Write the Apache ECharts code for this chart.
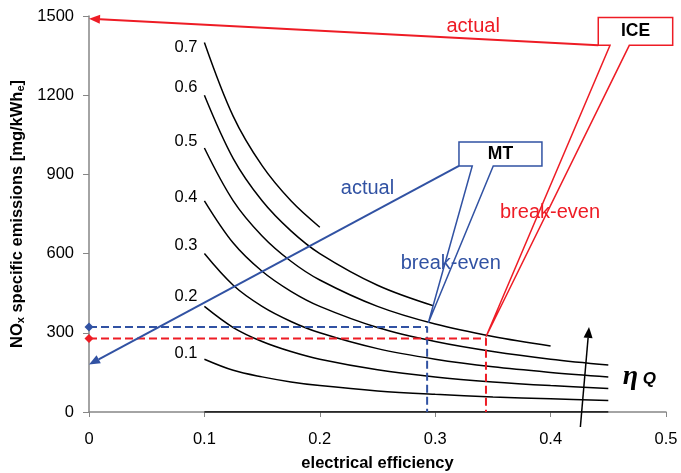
<!DOCTYPE html>
<html>
<head>
<meta charset="utf-8">
<script src="https://cdn.jsdelivr.net/npm/echarts@6/dist/echarts.min.js"></script>
<style>
html, body { margin: 0; padding: 0; background: #fff; }
#chart { width: 681px; height: 473px; }
</style>
</head>
<body>
<div id="chart"></div>
<script>
// electrical efficiency sample points (x)
var EFF = [0.1, 0.125, 0.15, 0.175, 0.2, 0.25, 0.3, 0.35, 0.4, 0.45];
var ETA_Q = ['0.1', '0.2', '0.3', '0.4', '0.5', '0.6', '0.7'];

// NOx specific emissions [mg/kWh]
var NOX_01 = [200, 158, 133, 114, 100, 80, 67, 57, 50, 44];
var NOX_02 = [400, 320, 267, 229, 200, 160, 133, 114, 100, 89];
var NOX_03 = [600, 480, 400, 343, 300, 240, 200, 171, 150, 133];
var NOX_04 = [800, 640, 533, 457, 400, 320, 267, 229, 200, 178];
var NOX_05 = [1000, 800, 667, 571, 500, 400, 333, 286, 250];
var NOX_06 = [1200, 960, 800, 686, 600, 480, 400];
var NOX_07 = [1400, 1120, 933, 800, 700];
var NOX_00 = [0, 0, 0, 0, 0, 0, 0, 0, 0, 0];

// break-even (efficiency, NOx) and actual NOx of each unit
var MT_BREAK_EVEN = [0.293, 322];
var ICE_BREAK_EVEN = [0.344, 278];
var MT_ACTUAL = 180;
var ICE_ACTUAL = 1490;

var RED = '#ee1c25';
var BLUE = '#3152a3';
var FONT = 'Liberation Sans, Arial, sans-serif';

var curves = [NOX_01, NOX_02, NOX_03, NOX_04, NOX_05, NOX_06, NOX_07];
var labelShift = [-6, -10, -8, -3, -7, -8, 5];

function curveSeries(name, vals) {
    return {
        type: 'line',
        name: name,
        smooth: 0.35,
        symbol: 'none',
        silent: true,
        lineStyle: { color: '#000', width: 1.5 },
        data: vals.map(function (v, i) { return [EFF[i], v]; }),
        z: 3
    };
}

function dashSeries(p, color) {
    return {
        type: 'line',
        silent: true,
        showSymbol: true,
        lineStyle: { color: color, width: 2, type: [8, 4] },
        data: [
            { value: [0, p[1]], symbol: 'diamond', symbolSize: 9, itemStyle: { color: color } },
            { value: [p[0], p[1]], symbol: 'none' },
            { value: [p[0], 0], symbol: 'none' }
        ],
        z: 4
    };
}

var chart = echarts.init(document.getElementById('chart'));

var series = [];
for (var i = 0; i < curves.length; i++) {
    series.push(curveSeries(ETA_Q[i], curves[i]));
}
series.push(curveSeries('', NOX_00));
series.push(dashSeries(MT_BREAK_EVEN, BLUE));
series.push(dashSeries(ICE_BREAK_EVEN, RED));

var axisGray = '#868686';

chart.setOption({
    animation: false,
    backgroundColor: '#fff',
    grid: { left: 89, right: 15, top: 16, bottom: 61, outerBoundsMode: 'none', containLabel: false },
    xAxis: {
        type: 'value', min: 0, max: 0.5, interval: 0.1,
        name: 'electrical efficiency', nameLocation: 'middle', nameGap: 43,
        nameTextStyle: { fontSize: 16.5, fontWeight: 'bold', color: '#000', fontFamily: FONT },
        axisLine: { lineStyle: { color: axisGray, width: 1.5 } },
        axisTick: { length: 5, lineStyle: { color: axisGray } },
        axisLabel: { fontSize: 16.5, color: '#000', margin: 19, fontFamily: FONT },
        splitLine: { show: false }
    },
    yAxis: {
        type: 'value', min: 0, max: 1500, interval: 300,
        name: '{a|NO}{s|x}{a| specific emissions [mg/kWh}{s|e}{a|]}',
        nameLocation: 'middle', nameGap: 56, nameRotate: 90,
        nameTextStyle: {
            color: '#000', fontFamily: FONT,
            rich: {
                a: { fontSize: 16.5, fontWeight: 'bold', color: '#000', fontFamily: FONT },
                s: { fontSize: 11, fontWeight: 'bold', color: '#000', fontFamily: FONT, verticalAlign: 'bottom', padding: [6, 0, 0, 0] }
            }
        },
        axisLine: { show: true, lineStyle: { color: axisGray, width: 1.5 } },
        axisTick: { show: true, length: 6, lineStyle: { color: axisGray } },
        axisLabel: {
            fontSize: 16.5, color: '#000', margin: 15, fontFamily: FONT,
            formatter: function (v) { return String(v); }
        },
        splitLine: { show: false }
    },
    series: series
});

function px(p) {
    return chart.convertToPixel({ gridIndex: 0 }, p);
}

// callout box + wedge pointing at a data point
function callout(x0, x1, yTop, yBot, w0, w1, tip, color, text) {
    var pts = [
        px([x0, yTop]), px([x1, yTop]), px([x1, yBot]), px([w1, yBot]),
        px(tip), px([w0, yBot]), px([x0, yBot])
    ];
    var c = px([(x0 + x1) / 2, (yTop + yBot) / 2]);
    return [
        { type: 'polygon', shape: { points: pts }, style: { fill: '#fff', stroke: color, lineWidth: 1.5 }, z: 20 },
        {
            type: 'text', x: c[0], y: c[1], z: 21,
            style: { text: text, fontSize: 17.5, fontWeight: 'bold', fill: '#000', fontFamily: FONT, align: 'center', verticalAlign: 'middle' }
        }
    ];
}

function label(p, text, color, size) {
    var c = px(p);
    return {
        type: 'text', x: c[0], y: c[1], z: 22,
        style: { text: text, fontSize: size || 20, fill: color, fontFamily: FONT, align: 'center', verticalAlign: 'middle' }
    };
}

// "actual" arrows from the boxes to the y axis
function arrow(from, to, color, width) {
    var a = px(from), b = px(to);
    var ang = Math.atan2(b[1] - a[1], b[0] - a[0]);
    var L = 11, W = 4.5;
    var bx = b[0] - L * Math.cos(ang), by = b[1] - L * Math.sin(ang);
    var nx = -Math.sin(ang) * W, ny = Math.cos(ang) * W;
    return [
        { type: 'line', shape: { x1: a[0], y1: a[1], x2: bx, y2: by }, style: { stroke: color, lineWidth: width }, z: 15 },
        { type: 'polygon', shape: { points: [[b[0], b[1]], [bx + nx, by + ny], [bx - nx, by - ny]] }, style: { fill: color }, z: 15 }
    ];
}

var g = [];
// eta_Q labels beside the start of each curve
for (var k = 0; k < curves.length; k++) {
    var s = px([EFF[0], curves[k][0]]);
    g.push({
        type: 'text', x: s[0] - 7, y: s[1] + labelShift[k], z: 10,
        style: { text: ETA_Q[k], fontSize: 16.5, fill: '#000', fontFamily: FONT, align: 'right', verticalAlign: 'middle' }
    });
}
g = g.concat(arrow([0.4413, 1389], [0, ICE_ACTUAL], RED, 2));
g = g.concat(arrow([0.3206, 932], [0, MT_ACTUAL], BLUE, 2));
g = g.concat(callout(0.4413, 0.5058, 1494, 1389, 0.4515, 0.4682, [0.344, 285], RED, 'ICE'));
g = g.concat(callout(0.3206, 0.3925, 1023, 932, 0.3321, 0.3503, [0.294, 337], BLUE, 'MT'));
g.push(label([0.3329, 1459], 'actual', RED));
g.push(label([0.2413, 847], 'actual', BLUE));
g.push(label([0.3995, 755], 'break-even', RED));
g.push(label([0.3135, 563], 'break-even', BLUE));
g = g.concat(arrow([0.4258, -57], [0.4333, 322], '#000', 1.5));

var eta = px([0.4625, 135]);
g.push({
    type: 'text', x: eta[0], y: eta[1], z: 22,
    style: {
        text: '{e|η}{q| Q}',
        verticalAlign: 'middle',
        rich: {
            e: { fontSize: 28, fontWeight: 'bold', fontStyle: 'italic', fill: '#000', fontFamily: 'Liberation Serif, serif' },
            q: { fontSize: 17, fontWeight: 'bold', fontStyle: 'italic', fill: '#000', fontFamily: FONT, padding: [6, 0, 0, 0] }
        }
    }
});

chart.setOption({ graphic: g });
</script>
</body>
</html>
